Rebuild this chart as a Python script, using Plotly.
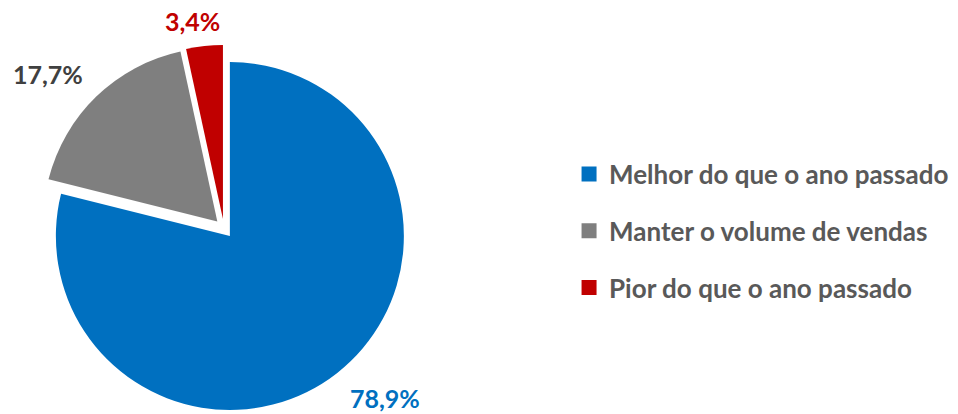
import plotly.graph_objects as go

categories = ["Melhor do que o ano passado", "Manter o volume de vendas", "Pior do que o ano passado"]
values = [78.9, 17.7, 3.4]
slice_colors = ["#0070C0", "#7F7F7F", "#C00000"]
label_colors = ["#0070C0", "#404040", "#C00000"]

FONT = "Lato"

# data-label anchor positions (paper fractions), Excel-style placement
label_pos = [(0.4019, 0.0386), (0.0501, 0.8213), (0.2010, 0.9493)]

fig = go.Figure()
fig.add_trace(go.Pie(
    labels=categories,
    values=values,
    sort=False,
    direction="clockwise",
    rotation=0,
    pull=[0.055] * len(values),
    marker=dict(colors=slice_colors, line=dict(width=0)),
    textinfo="none",
    hoverinfo="label+value",
    showlegend=False,
    domain=dict(x=[0, 0.4676], y=[0.0048, 0.8916]),
))

for name, col in zip(categories, slice_colors):
    fig.add_trace(go.Scatter(
        x=[None], y=[None], mode="markers", name=name, legendgroup=name,
        marker=dict(symbol="square", size=15, color=col),
        showlegend=True,
    ))

annotations = []
for v, c, (ax, ay) in zip(values, label_colors, label_pos):
    annotations.append(dict(
        x=ax, y=ay, xref="paper", yref="paper", xanchor="center", yanchor="middle",
        text=f"{v:.1f}%".replace(".", ","), showarrow=False,
        font=dict(family=FONT, size=25, color=c, weight="bold"),
    ))

fig.update_layout(
    width=958, height=414,
    margin=dict(l=0, r=0, t=0, b=0, autoexpand=False),
    paper_bgcolor="white", plot_bgcolor="white",
    separators=",.",
    xaxis=dict(visible=False), yaxis=dict(visible=False),
    annotations=annotations,
    legend=dict(
        x=0.594, y=0.442, xanchor="left", yanchor="middle",
        font=dict(family=FONT, size=26, color="#595959", weight="bold"),
        tracegroupgap=20,
        bgcolor="rgba(0,0,0,0)",
    ),
)

fig.write_html("out.html")
